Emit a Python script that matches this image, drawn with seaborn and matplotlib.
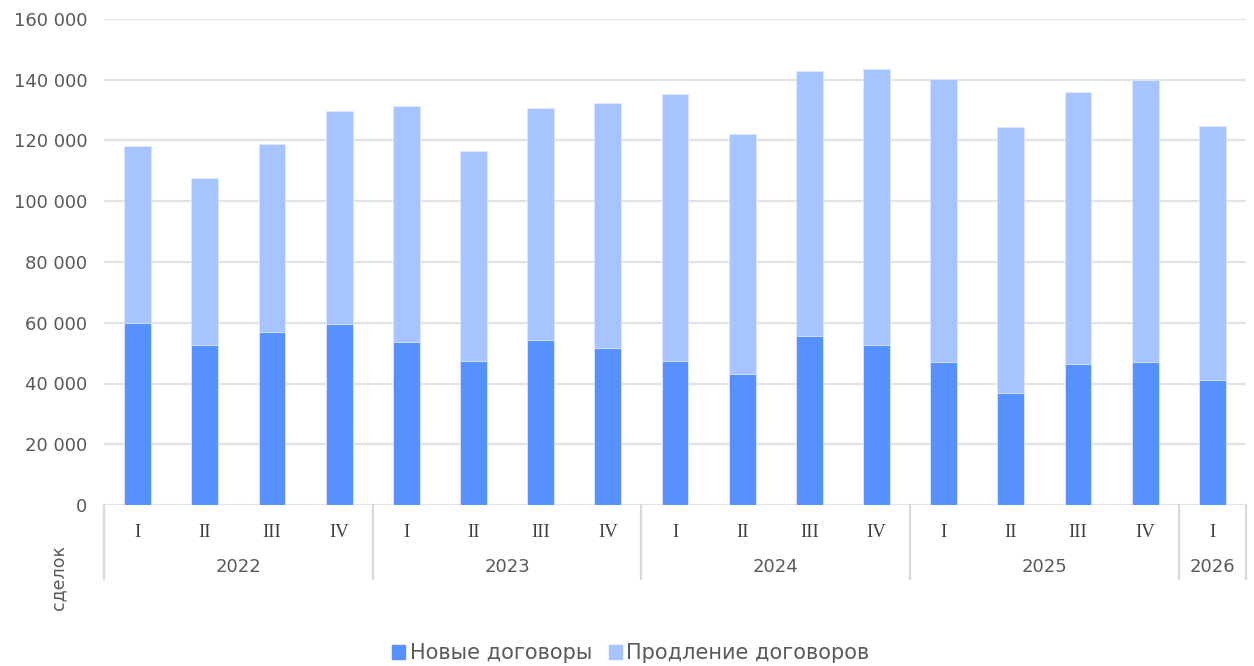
import pandas as pd
import seaborn as sns
import matplotlib.pyplot as plt
import matplotlib.transforms as mtransforms
from matplotlib.patches import Patch

# Data
years = ["2022"] * 4 + ["2023"] * 4 + ["2024"] * 4 + ["2025"] * 4 + ["2026"]
quarters = ["I", "II", "III", "IV"] * 4 + ["I"]
new_contracts = [59800, 52600, 57000, 59500,
                 53600, 47300, 54200, 51800,
                 47300, 43000, 55500, 52600,
                 47100, 37000, 46500, 47000,
                 41000]
totals = [118100, 107800, 119000, 129700,
          131500, 116700, 130600, 132500,
          135300, 122100, 142900, 143500,
          140100, 124400, 135900, 139900,
          124800]

new_label = "Новые договоры"
renew_label = "Продление договоров"
c_new = "#5691ff"
c_renew = "#a6c4ff"
text_c = "#595959"

df = pd.DataFrame({"year": years, "quarter": quarters,
                   "new": new_contracts, "total": totals})
df["key"] = df["year"] + " " + df["quarter"]

sns.set_style("white")
plt.rcParams["font.family"] = ["DejaVu Sans"]

fig = plt.figure(figsize=(12.54, 6.66), dpi=100)
ax = fig.add_axes([104 / 1254, 1 - 505 / 666, 1142 / 1254, 486 / 666])

# stacked bars: total (light) underneath, new contracts (dark) over it
sns.barplot(data=df, x="key", y="total", color=c_renew, width=0.4,
            saturation=1, edgecolor="#dfe8ff", linewidth=0.6, ax=ax, zorder=3)
sns.barplot(data=df, x="key", y="new", color=c_new, width=0.4,
            saturation=1, edgecolor="#dfe8ff", linewidth=0.6, ax=ax, zorder=4)

ax.set_ylim(0, 160000)
ax.set_xlim(-0.5, len(df) - 0.5)
ax.set_yticks(range(0, 160001, 20000))
ax.set_yticklabels([f"{v:,}".replace(",", " ") for v in range(0, 160001, 20000)],
                   fontsize=13, color=text_c)
ax.yaxis.grid(True, color="#e3e3e3", linewidth=1.6, zorder=0)
ax.set_axisbelow(True)
ax.tick_params(axis="y", length=0, pad=12)
ax.tick_params(axis="x", length=0, pad=14)
for s in ax.spines.values():
    s.set_visible(False)
ax.set_xlabel("")
ax.set_ylabel("")

# quarter labels (serif) as first level of the category axis
ax.set_xticks(range(len(df)))
ax.set_xticklabels(df["quarter"], family="Liberation Serif", fontsize=13.5,
                   color="#404040")

# year labels and group separators
trans = mtransforms.blended_transform_factory(ax.transData, ax.transAxes)
bounds = []
for y in df["year"].unique():
    idx = df.index[df["year"] == y]
    mid = (idx[0] + idx[-1]) / 2
    ax.text(mid, -0.127, y, transform=trans, ha="center", va="center",
            fontsize=13, color=text_c)
    bounds.append(idx[0] - 0.5)
bounds.append(len(df) - 0.5)
for b in bounds:
    ax.plot([b, b], [0, -0.152], transform=trans, color="#d9d9d9",
            linewidth=1.6, clip_on=False)

fig.text(58 / 1254, 1 - 578 / 666, "сделок", rotation=90, ha="center",
         va="center", fontsize=12.5, color=text_c)

handles = [Patch(color=c_new, label=new_label),
           Patch(color=c_renew, label=renew_label)]
fig.legend(handles=handles, loc="center", bbox_to_anchor=(0.503, 0.019),
           ncol=2, frameon=False, fontsize=15, handlelength=0.65,
           handleheight=0.65, handletextpad=0.2, columnspacing=0.8,
           labelcolor=text_c)

fig.savefig("out.png", dpi=100)
